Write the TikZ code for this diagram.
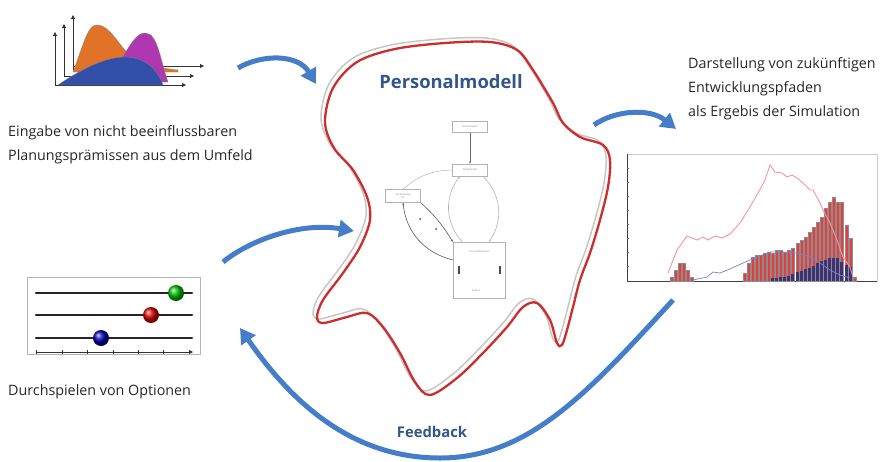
\documentclass[tikz,border=0pt]{standalone}
\usepackage{fontspec}
\setmainfont{Open Sans}
\usetikzlibrary{arrows.meta,shadings}
\definecolor{arrowblue}{RGB}{70,125,200}
\definecolor{titleblue}{RGB}{50,85,140}
\definecolor{blobred}{RGB}{205,45,45}
\definecolor{humporange}{RGB}{225,115,40}
\definecolor{humpmagenta}{RGB}{175,55,175}
\definecolor{humpblue}{RGB}{50,80,170}
\definecolor{barred}{RGB}{228,62,62}
\definecolor{barnavy}{RGB}{60,50,120}
\definecolor{linepink}{RGB}{240,150,160}
\definecolor{lineblue}{RGB}{125,125,205}
\tikzstyle{flow}=[line width=5pt, arrowblue, -{Triangle[length=15pt,width=17pt]}]
\tikzstyle{caption}=[font=\fontsize{14.3}{24}\selectfont, text=black!85, align=left, inner sep=0pt]
\tikzstyle{headline}=[font=\bfseries, text=titleblue, inner sep=0pt]
\tikzstyle{mbox}=[draw=gray!60, line width=0.4pt, font=\fontsize{2.5}{3}\selectfont, text=gray, inner sep=1pt]
\tikzstyle{mlink}=[gray!60, line width=0.6pt, -{Stealth[length=2.5pt]}]
\tikzstyle{bar}=[fill=barred, draw=black!45, line width=0.25pt]
\tikzstyle{navybar}=[fill=barnavy]
\tikzstyle{axis}=[black!80, line width=0.8pt, -{Triangle[length=4pt,width=4pt]}]

\begin{document}
\begin{tikzpicture}[x=1pt, y=-1pt]
\useasboundingbox (0,0) rectangle (885,461);
% Texts
    \node[caption, anchor=north west] (inputtext) at (8,125) {Eingabe von nicht beeinflussbaren\\Planungsprämissen aus dem Umfeld};
    \node[caption, anchor=north west] (outputtext) at (688,57) {Darstellung von zukünftigen\\Entwicklungspfaden\\als Ergebis der Simulation};
    \node[caption, anchor=north west] (optiontext) at (8,384) {Durchspielen von Optionen};
    \node[headline, font=\bfseries\fontsize{18.4}{18.4}\selectfont] (title) at (451,82) {Personalmodell};
    \node[headline, font=\bfseries\fontsize{14.8}{14.8}\selectfont] (feedbacklabel) at (432,432) {Feedback};
% Input distributions
    \draw[axis] (55,85) -- (55,32);
    \draw[axis] (64,76) -- (64,24);
    \draw[axis] (73,70) -- (73,15);
    \draw[axis] (55,85) -- (186,85);
    \draw[axis] (64,76) -- (194,76);
    \draw[axis] (73,66) -- (204,66);
    \fill[humporange, draw=black!50, line width=0.3pt] (73,72) .. controls (85,40) and (88,25) .. (97,25) .. controls (110,25) and (118,45) .. (130,55) .. controls (145,65) and (160,68) .. (178,70) -- (178,72) -- cycle;
    \fill[humpmagenta, draw=black!50, line width=0.3pt] (100,82) .. controls (122,70) and (130,33) .. (145,33) .. controls (158,33) and (160,60) .. (168,82) -- cycle;
    \fill[humpblue, draw=black!50, line width=0.3pt] (58,85) .. controls (80,70) and (105,57) .. (125,57) .. controls (145,57) and (158,70) .. (163,85) -- cycle;
% Options
    \draw[gray!60, line width=0.8pt] (27,277) rectangle (200,354);
    \draw[line width=2.5pt, black!85, line cap=round] (36,293) -- (192,293);
    \draw[line width=2.5pt, black!85, line cap=round] (36,315) -- (192,315);
    \draw[line width=2.5pt, black!85, line cap=round] (36,338) -- (192,338);
    \draw[black!80, line width=0.8pt, -{Triangle[length=4pt,width=4pt]}] (36,352) -- (193,352);
    \draw[black!80, line width=0.6pt] (36,350) -- (36,354) (62,350) -- (62,354) (87,350) -- (87,354) (113,350) -- (113,354) (138,350) -- (138,354) (163,350) -- (163,354);
    \shade[ball color=green!75!black] (176,293) circle (8pt);
    \shade[ball color=red!85!black] (151,315) circle (8pt);
    \shade[ball color=blue!70!black] (101,338) circle (8pt);
% Model outline
    \draw[gray!45, line width=1.5pt, xshift=-4pt, yshift=4pt] plot[smooth cycle, tension=0.55] coordinates {(325,122) (333,88) (357,62) (395,49) (445,43) (490,42) (517,50) (533,70) (553,103) (563,123) (580,137) (603,145) (610,160) (608,187) (600,220) (590,253) (580,280) (573,307) (567,330) (562,345) (557,343) (550,320) (537,303) (523,307) (507,327) (483,353) (457,378) (430,395) (415,382) (400,353) (383,327) (367,313) (347,317) (323,323) (317,317) (323,300) (343,273) (360,247) (370,220) (367,197) (353,170) (334,148)};
    \draw[blobred, line width=2.3pt] plot[smooth cycle, tension=0.55] coordinates {(325,122) (333,88) (357,62) (395,49) (445,43) (490,42) (517,50) (533,70) (553,103) (563,123) (580,137) (603,145) (610,160) (608,187) (600,220) (590,253) (580,280) (573,307) (567,330) (562,345) (557,343) (550,320) (537,303) (523,307) (507,327) (483,353) (457,378) (430,395) (415,382) (400,353) (383,327) (367,313) (347,317) (323,323) (317,317) (323,300) (343,273) (360,247) (370,220) (367,197) (353,170) (334,148)};
% Model structure
    \node[mbox, minimum width=35pt, minimum height=11pt] (brutto) at (470,127) {Bruttobedarf};
    \node[mbox, minimum width=35pt, minimum height=12pt] (netto) at (470,170) {Nettobedarf};
    \node[mbox, minimum width=35pt, minimum height=13pt, align=center] (change) at (403,196) {Veränderung\\Ist};
    \node[mbox, minimum width=52pt, minimum height=56pt] (staff) at (479,270) {};
    \node[mbox, draw=none] (stafflabel) at (479,252) {Personalbestand};
    \node[mbox, draw=none] (exportlabel) at (476,291) {Export};
    \coordinate (staffleft) at (453,260);
    \draw[mlink, black!60] (brutto) -- (netto);
    \draw[gray!50, line width=0.6pt] (netto.west) to[bend right=20] (change.north);
    \draw[mlink] (staff.north -| 462,0) to[bend left=40] (netto.south -| 460,0);
    \draw[mlink] (netto.south -| 483,0) to[bend left=40] (staff.north -| 489,0);
    \draw[mlink, black!65] (change.south east) to[bend left=8] (staff.north west);
    \draw[mlink, black!65] (staffleft) to[bend left=35] (change.south);
    \fill[black!70] (420,219) circle (1pt);
    \fill[black!70] (436,229) circle (1pt);
    \fill[black!70] (458,266) rectangle (460,274);
    \fill[black!70] (499,266) rectangle (501,274);
% Simulation result
    \draw[gray!40, line width=0.6pt] (627,154) rectangle (877,281);
    \draw[black!75, line width=0.8pt] (627,154) -- (627,281) -- (877,281);
    \draw[black!60, line width=0.4pt] (627,168) -- (629,168) (627,182) -- (629,182) (627,196) -- (629,196) (627,210) -- (629,210) (627,224) -- (629,224) (627,238) -- (629,238) (627,252) -- (629,252) (627,266) -- (629,266);
    \draw[bar] (670,281) rectangle (673,277);
    \draw[bar] (674,281) rectangle (677,270);
    \draw[bar] (678,281) rectangle (681,263);
    \draw[bar] (682,281) rectangle (685,263);
    \draw[bar] (686,281) rectangle (689,270);
    \draw[bar] (690,281) rectangle (693,277);
    \draw[bar] (743,281) rectangle (746,273);
    \draw[bar] (747,281) rectangle (750,263);
    \draw[bar] (751,281) rectangle (754,257);
    \draw[bar] (755,281) rectangle (758,255);
    \draw[bar] (759,281) rectangle (762,255);
    \draw[bar] (763,281) rectangle (766,253);
    \draw[bar] (767,281) rectangle (770,252);
    \draw[bar] (771,281) rectangle (774,253);
    \draw[bar] (775,281) rectangle (778,250);
    \draw[bar] (779,281) rectangle (782,250);
    \draw[bar] (783,281) rectangle (786,252);
    \draw[bar] (787,281) rectangle (790,250);
    \draw[bar] (791,281) rectangle (794,248);
    \draw[bar] (796,281) rectangle (799,243);
    \draw[bar] (800,281) rectangle (803,240);
    \draw[bar] (804,281) rectangle (807,237);
    \draw[bar] (808,281) rectangle (811,232);
    \draw[bar] (812,281) rectangle (815,227);
    \draw[bar] (816,281) rectangle (819,222);
    \draw[bar] (820,281) rectangle (823,217);
    \draw[bar] (824,281) rectangle (827,208);
    \draw[bar] (828,281) rectangle (831,202);
    \draw[bar] (832,281) rectangle (835,197);
    \draw[bar] (836,281) rectangle (839,202);
    \draw[bar] (840,281) rectangle (843,202);
    \draw[bar] (845,281) rectangle (848,225);
    \draw[bar] (849,281) rectangle (852,238);
    \draw[bar] (853,281) rectangle (856,277);
    \fill[navybar] (771,281) rectangle (774,278);
    \fill[navybar] (775,281) rectangle (778,278);
    \fill[navybar] (779,281) rectangle (782,277);
    \fill[navybar] (783,281) rectangle (786,277);
    \fill[navybar] (787,281) rectangle (790,276);
    \fill[navybar] (791,281) rectangle (794,274);
    \fill[navybar] (796,281) rectangle (799,272);
    \fill[navybar] (800,281) rectangle (803,271);
    \fill[navybar] (804,281) rectangle (807,269);
    \fill[navybar] (808,281) rectangle (811,268);
    \fill[navybar] (812,281) rectangle (815,266);
    \fill[navybar] (816,281) rectangle (819,263);
    \fill[navybar] (820,281) rectangle (823,261);
    \fill[navybar] (824,281) rectangle (827,260);
    \fill[navybar] (828,281) rectangle (831,258);
    \fill[navybar] (832,281) rectangle (835,258);
    \fill[navybar] (836,281) rectangle (839,258);
    \fill[navybar] (840,281) rectangle (843,262);
    \fill[navybar] (845,281) rectangle (848,265);
    \fill[navybar] (849,281) rectangle (852,267);
    \draw[linepink, line width=0.9pt] (668,273) -- (677,250) -- (687,236) -- (697,240) -- (703,237) -- (708,240) -- (715,236) -- (722,238) -- (730,234) -- (740,223) -- (750,207) -- (758,193) -- (765,180) -- (770,165) -- (775,172) -- (782,173) -- (787,177) -- (792,175) -- (797,178) -- (803,183) -- (810,190) -- (813,190) -- (820,203) -- (823,210) -- (830,223) -- (837,240) -- (843,257) -- (850,267) -- (853,277);
    \draw[lineblue, line width=0.7pt] (693,280) -- (707,277) -- (713,272) -- (720,273) -- (730,269) -- (743,263) -- (750,260) -- (757,257) -- (770,252) -- (783,252) -- (797,253) -- (810,257) -- (820,263) -- (830,270) -- (840,275) -- (850,278);
% Flow arrows
    \coordinate (inA) at (238,68);
    \coordinate (inB) at (316,84);
    \coordinate (optA) at (223,262);
    \coordinate (optB) at (354,231);
    \coordinate (outA) at (594,125);
    \coordinate (outB) at (676,129);
    \coordinate (backA) at (673,300);
    \coordinate (backM) at (440,458);
    \coordinate (backB) at (240,328);
    \draw[flow] (inA) .. controls (262,54) and (298,54) .. (inB);
    \draw[flow] (optA) .. controls (250,240) and (300,222) .. (optB);
    \draw[flow] (outA) .. controls (615,110) and (650,108) .. (outB);
    \draw[flow] (backA) .. controls (590,390) and (530,458) .. (backM) .. controls (350,458) and (290,400) .. (backB);
\end{tikzpicture}
\end{document}
